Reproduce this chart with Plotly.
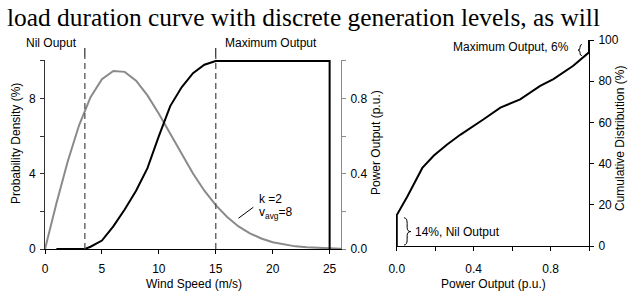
import plotly.graph_objects as go

# ---- data ----
wind_speed = [0, 1, 2, 3, 4, 5, 6, 7, 8, 9, 10, 11, 12, 13, 14, 15, 16, 17, 18, 19, 20, 21, 22, 23, 24, 25, 26]
prob_density = [0, 2.42, 4.67, 6.59, 8.07, 9.03, 9.47, 9.42, 8.95, 8.17, 7.19, 6.11, 5.03, 4.01, 3.10, 2.33,
                1.70, 1.20, 0.83, 0.56, 0.36, 0.23, 0.14, 0.09, 0.05, 0.03, 0.01]

curve_speed = [1, 3.5, 4, 5, 6, 7, 8, 9, 10, 11, 12, 13, 14, 15, 25, 25]
curve_output = [0, 0, 0.012, 0.045, 0.12, 0.21, 0.31, 0.43, 0.60, 0.76, 0.86, 0.935, 0.98, 1.0, 1.0, 0]

cut_in, rated = 3.5, 15

cdf_power = [0, 0, 0.055, 0.133, 0.193, 0.262, 0.332, 0.40, 0.45, 0.539, 0.642, 0.746, 0.815, 0.918,
             0.96, 0.99, 1.0, 1.0]
cdf_pct = [0, 15, 24, 37.9, 43.9, 49.3, 54.1, 58.2, 61.4, 67.2, 71.2, 77.7, 81, 87.5,
           90.6, 93.2, 94, 100]

x_ticks_left = [0, 5, 10, 15, 20, 25]
y_ticks_left = [0, 2, 4, 6, 8, 10]
y_text_left = ["0", "", "4", "", "8", ""]
y2_ticks = [0, 0.2, 0.4, 0.6, 0.8, 1.0]
y2_text = ["0.0", "", "0.4", "", "0.8", ""]
x3_ticks = [0, 0.2, 0.4, 0.6, 0.8, 1.0]
x3_text = ["0.0", "", "0.4", "", "0.8", ""]
y3_ticks = [0, 20, 40, 60, 80, 100]

W, H = 629, 293
FONT = "Liberation Sans, Arial, Helvetica, sans-serif"
Y_TOP = 10.05


def px(x):
    return x / W


def py(y):
    return 1 - y / H


def yleft(ypix):
    # pixel row -> left-axis value (axis spans rows 249..60)
    return (249 - ypix) * Y_TOP / 189


fig = go.Figure()
fig.add_trace(go.Scatter(x=wind_speed, y=prob_density, mode="lines",
                         line=dict(color="#8a8a8a", width=2), xaxis="x", yaxis="y"))
fig.add_trace(go.Scatter(x=curve_speed, y=curve_output, mode="lines",
                         line=dict(color="black", width=2), xaxis="x", yaxis="y2"))
fig.add_trace(go.Scatter(x=cdf_power, y=cdf_pct, mode="lines",
                         line=dict(color="black", width=2), xaxis="x3", yaxis="y3"))

axcommon = dict(showgrid=False, zeroline=False, showline=True, linewidth=1, ticks="outside",
                ticklen=4, tickwidth=1, automargin=False,
                tickfont=dict(family=FONT, size=12, color="black"))

fig.update_layout(
    template="none",
    width=W, height=H, margin=dict(l=0, r=0, t=0, b=0, pad=0),
    paper_bgcolor="white", plot_bgcolor="white", showlegend=False,
    font=dict(family=FONT, size=12, color="black"),
    xaxis=dict(domain=[px(45), px(341)], range=[0, 26], tickvals=x_ticks_left, anchor="y",
               linecolor="black", tickcolor="black", ticklabelstandoff=5, **axcommon),
    yaxis=dict(domain=[py(249), py(60)], range=[0, Y_TOP], tickvals=y_ticks_left, ticktext=y_text_left,
               anchor="x", linecolor="#333", tickcolor="#333", ticklabelstandoff=2, **axcommon),
    yaxis2=dict(overlaying="y", side="right", range=[0, 1.005], tickvals=y2_ticks, ticktext=y2_text,
                anchor="x", linecolor="#8a8a8a", tickcolor="#8a8a8a", ticklabelstandoff=2, **axcommon),
    xaxis3=dict(domain=[px(396), px(589)], range=[-0.004, 1.0], tickvals=x3_ticks, ticktext=x3_text,
                anchor="y3", linecolor="black", tickcolor="black", ticklabelstandoff=8, **axcommon),
    yaxis3=dict(domain=[py(246), py(40)], range=[0, 100], tickvals=y3_ticks, side="right",
                anchor="x3", linecolor="black", tickcolor="black", ticklabelstandoff=2, **axcommon),
)

# dashed markers for cut-in and rated speeds
for xv in (cut_in, rated):
    fig.add_shape(type="line", xref="x", yref="paper", x0=xv, x1=xv, y0=py(249), y1=py(57),
                  line=dict(color="#555", width=1.3, dash="6px,4px"))
    fig.add_shape(type="line", xref="x", yref="paper", x0=xv, x1=xv, y0=py(57), y1=py(48),
                  line=dict(color="black", width=1))

ann = []


def label(x, y, text, xa="center", ya="middle", angle=0, size=12, family=FONT):
    ann.append(dict(x=px(x), y=py(y), xref="paper", yref="paper", text=text, showarrow=False,
                    xanchor=xa, yanchor=ya, textangle=angle,
                    font=dict(family=family, size=size, color="black")))


# arrows
yarr = yleft(52.5)
ann.append(dict(x=2.0, y=yarr, xref="x", yref="y", ax=cut_in, ay=yarr, axref="x", ayref="y",
                text="", showarrow=True, arrowhead=2, arrowsize=0.7, arrowwidth=1, arrowcolor="black"))
ann.append(dict(x=16.6, y=yarr, xref="x", yref="y", ax=rated, ay=yarr, axref="x", ayref="y",
                text="", showarrow=True, arrowhead=2, arrowsize=0.7, arrowwidth=1, arrowcolor="black"))
label(52, 43, "Nil Ouput")
label(223, 43, "Maximum Output", xa="left")
# k / vavg label
label(257, 199, "k =2", xa="left")
label(257, 213, "v<sub>avg</sub>=8", xa="left")
fig.add_shape(type="line", xref="x", yref="y", x0=18.3, y0=2.22, x1=17.0, y1=1.64,
              line=dict(color="black", width=1))
# axis titles
label(16, 144, "Probability Density (%)", angle=-90)
label(376, 143, "Power Output (p.u.)", angle=-90)
label(194, 283.5, "Wind Speed (m/s)")
label(493, 283.5, "Power Output (p.u.)")
label(620, 139, "Cumulative Distribution (%)", angle=-90)
# right plot notes
label(413, 232, "14%, Nil Output", xa="left")
label(571, 47, "Maximum Output, 6%", xa="right")
# braces
fig.add_shape(type="path", xref="x3", yref="y3",
              path="M 0.038,13.7 Q 0.054,13.7 0.054,11 L 0.054,9 Q 0.054,7 0.073,7 "
                   "Q 0.054,7 0.054,5 L 0.054,3 Q 0.054,0.5 0.038,0.5",
              line=dict(color="black", width=1))
fig.add_shape(type="path", xref="x3", yref="y3",
              path="M 0.963,97.8 Q 0.953,97.8 0.953,96.5 L 0.953,96.2 Q 0.953,95.1 0.943,95.1 "
                   "Q 0.953,95.1 0.953,94 L 0.953,93.7 Q 0.953,92.4 0.963,92.4",
              line=dict(color="black", width=1))
# top text line (cropped paper text)
label(5, 17, "load duration curve with discrete generation levels, as will", xa="left",
      size=25.4, family="Liberation Serif, Times New Roman, serif")

fig.update_layout(annotations=ann)
fig.write_html("out.html", config={"displayModeBar": False},
               post_script="document.body.style.margin='0';document.body.style.overflow='hidden';")
